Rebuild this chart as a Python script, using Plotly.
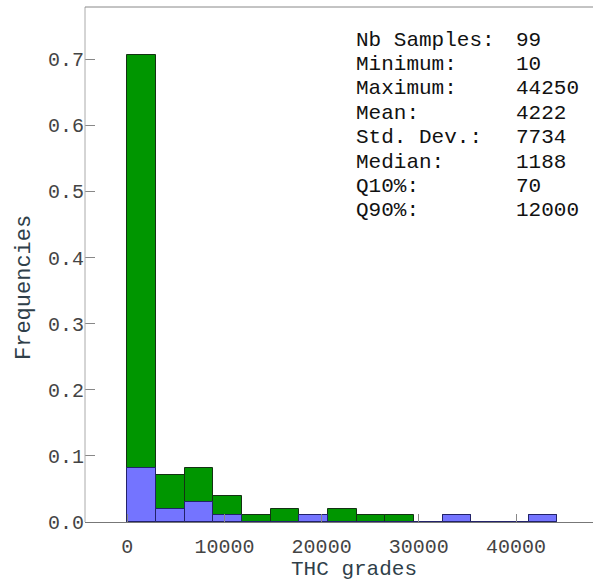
import plotly.graph_objects as go

# ---- data ----
bin_min = 10
bin_max = 44250
n_bins = 15
green_freq = [0.707, 0.071, 0.081, 0.040, 0.010, 0.020, 0.010, 0.020,
              0.010, 0.010, 0.0, 0.010, 0.0, 0.0, 0.010]
blue_freq = [0.081, 0.020, 0.030, 0.010, 0.0, 0.0, 0.010, 0.0,
             0.0, 0.0, 0.0, 0.010, 0.0, 0.0, 0.010]
x_ticks = [0, 10000, 20000, 30000, 40000]
y_ticks = [0.0, 0.1, 0.2, 0.3, 0.4, 0.5, 0.6, 0.7]
stat_labels = ["Nb Samples:", "Minimum:", "Maximum:", "Mean:", "Std. Dev.:",
               "Median:", "Q10%:", "Q90%:"]
stat_values = ["99", "10", "44250", "4222", "7734", "1188", "70", "12000"]

bw = (bin_max - bin_min) / n_bins
centers = [bin_min + bw * (i + 0.5) for i in range(n_bins)]

FONT = "Liberation Mono, Courier New, monospace"
W, H = 612, 580
ML, MT, MB, MR = 85, 7, 58, 0
PW, PH = W - ML - MR, H - MT - MB

fig = go.Figure()
fig.add_trace(go.Bar(x=centers, y=green_freq, width=[bw] * n_bins,
                     marker=dict(color="#009600", line=dict(color="#143214", width=1)),
                     showlegend=False))
fig.add_trace(go.Bar(x=centers, y=blue_freq, width=[bw] * n_bins,
                     marker=dict(color="#7474ff", line=dict(color="#22226a", width=1)),
                     showlegend=False))

def px_x(p):
    return (p - ML) / PW

def px_y(p):
    return 1 - (p - MT) / PH

ann = []
for i, (lab, val) in enumerate(zip(stat_labels, stat_values)):
    yy = 40 + i * 24.4
    ann.append(dict(x=px_x(354), y=px_y(yy), xref="paper", yref="paper",
                    text=lab, showarrow=False, xanchor="left", yanchor="middle",
                    font=dict(family=FONT, size=21, color="#111111")))
    ann.append(dict(x=px_x(514), y=px_y(yy), xref="paper", yref="paper",
                    text=val, showarrow=False, xanchor="left", yanchor="middle",
                    font=dict(family=FONT, size=21, color="#111111")))
ann.append(dict(x=px_x(354), y=px_y(569), xref="paper", yref="paper",
                text="THC grades", showarrow=False, xanchor="center", yanchor="middle",
                font=dict(family=FONT, size=21, color="#2f3f4a")))
ann.append(dict(x=px_x(24), y=px_y(288), xref="paper", yref="paper",
                text="Frequencies", showarrow=False, textangle=-90,
                xanchor="center", yanchor="middle",
                font=dict(family=FONT, size=22, color="#2f3f4a")))

frame = [
    dict(type="line", xref="paper", yref="paper", x0=0, x1=0, y0=0, y1=1,
         line=dict(color="#aaaaaa", width=1), layer="above"),
    dict(type="line", xref="paper", yref="paper", x0=0, x1=1, y0=1, y1=1,
         line=dict(color="#888888", width=1), layer="above"),
]

fig.update_layout(
    width=W, height=H,
    margin=dict(l=ML, r=MR, t=MT, b=MB),
    paper_bgcolor="white", plot_bgcolor="white",
    barmode="overlay", bargap=0,
    annotations=ann,
    shapes=frame,
    xaxis=dict(range=[-4340, 49870], tickvals=x_ticks,
               ticktext=[str(v) for v in x_ticks],
               ticks="inside", ticklen=8, tickcolor="#888888",
               showline=True, linecolor="#777777", linewidth=1,
               showgrid=False, zeroline=False, ticklabelstandoff=6,
               tickfont=dict(family=FONT, size=20, color="#444444")),
    yaxis=dict(range=[0, 0.779], tickvals=y_ticks,
               ticktext=["%.1f" % v for v in y_ticks],
               ticks="inside", ticklen=10, tickcolor="#888888",
               showline=False,
               showgrid=False, zeroline=False, ticklabelstandoff=0,
               tickfont=dict(family=FONT, size=20, color="#444444")),
)

fig.write_html("out.html", config={"displayModeBar": False},
               post_script="document.body.style.margin='0';document.body.style.overflow='hidden';document.documentElement.style.overflow='hidden';")
